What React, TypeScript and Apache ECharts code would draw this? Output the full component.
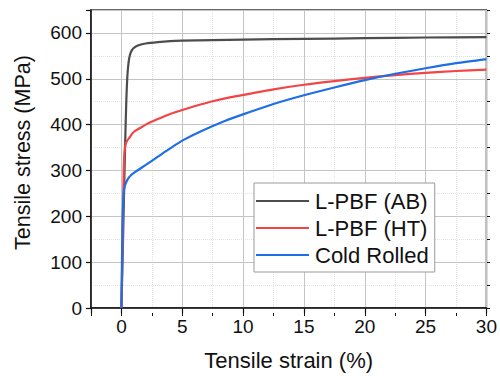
import React, { useEffect, useRef } from "react";
import * as echarts from "echarts";

const strainAB = [0, 0.1, 0.2, 0.3, 0.4, 0.5, 0.6, 0.7, 0.85, 1.05, 1.4, 2, 3, 4, 5, 7.5, 10, 15, 20, 25, 30];
const stressAB = [0, 110, 230, 350, 450, 510, 538, 552, 562, 568, 573, 577, 580, 582, 583, 584.5, 585.5, 587, 588.5, 590, 591];

const strainHT = [0, 0.1, 0.18, 0.25, 0.35, 0.5, 0.7, 1, 1.5, 2, 3, 4, 5, 6, 7.5, 9, 10.5, 12.5, 15, 17.5, 20, 22.5, 25, 27.5, 30];
const stressHT = [0, 150, 290, 340, 358, 366, 373, 384, 392, 400, 412, 423, 432, 440, 451, 460, 467, 477, 487, 495, 502, 508, 513, 517, 520];

const strainCR = [0, 0.1, 0.2, 0.3, 0.5, 0.8, 1.2, 2, 3, 4, 5, 6.5, 8.5, 10.5, 12.5, 15, 17.5, 20, 22.5, 25, 27.5, 30];
const stressCR = [0, 200, 255, 268, 280, 290, 298, 312, 330, 348, 365, 385, 408, 427, 445, 464, 481, 497, 511, 523, 534, 543];

const seriesNames = ["L-PBF (AB)", "L-PBF (HT)", "Cold Rolled"];
const seriesColors = ["#4d4d4d", "#f24545", "#1f6ee6"];

const xLabel = "Tensile strain (%)";
const yLabel = "Tensile stress (MPa)";

const FONT = "Liberation Sans, Arial, sans-serif";

function pairs(xs: number[], ys: number[]) {
  return xs.map((x, i) => [x, ys[i]]);
}

export default function App() {
  const ref = useRef<HTMLDivElement>(null);
  useEffect(() => {
    if (!ref.current) return;
    const chart = echarts.init(ref.current, undefined, { renderer: "svg" });
    const plotW = 399;
    const plotH = 303;
    const data = [pairs(strainAB, stressAB), pairs(strainHT, stressHT), pairs(strainCR, stressCR)];
    chart.setOption({
      animation: false,
      backgroundColor: "#ffffff",
      textStyle: { fontFamily: FONT },
      grid: {
        left: 91,
        right: 10,
        top: 10,
        bottom: 63,
        show: true,
        borderColor: "#3a3a3a",
        borderWidth: 1.5,
        backgroundColor: "transparent",
      },
      legend: {
        orient: "vertical",
        left: 254,
        top: 183,
        padding: [7, 6, 6, 2],
        itemGap: 5,
        itemWidth: 53,
        itemHeight: 2.2,
        icon: "rect",
        backgroundColor: "#ffffff",
        borderColor: "#9a9a9a",
        borderWidth: 1,
        borderRadius: 0,
        textStyle: { fontSize: 22, color: "#111", fontFamily: FONT, padding: [0, 0, 0, 1] },
        data: seriesNames,
      },
      xAxis: [
        {
          type: "value",
          min: -2.5,
          max: 30,
          splitNumber: 7,
          name: xLabel,
          nameLocation: "middle",
          nameGap: 41,
          nameTextStyle: { fontSize: 22, color: "#111", fontFamily: FONT, verticalAlign: "top" },
          axisLine: { show: true, onZero: false, lineStyle: { color: "#111", width: 1.5 } },
          axisTick: { show: true, inside: false, length: 5, lineStyle: { color: "#111", width: 1.2 } },
          axisLabel: {
            fontSize: 19,
            color: "#111",
            margin: 9,
            fontFamily: FONT,
            formatter: (v: number) => (v < 0 ? "" : String(v)),
          },
          splitLine: { show: true, lineStyle: { color: "#c4c4c4", width: 1 } },
          z: 3,
        },
        {
          type: "value",
          min: -2.5,
          max: 30,
          interval: 2.5,
          position: "top",
          offset: -plotH,
          axisLine: { show: false },
          axisTick: { show: true, inside: true, length: 3, lineStyle: { color: "#111", width: 1 } },
          axisLabel: { show: false },
          splitLine: { show: true, lineStyle: { color: "#e3e3e3", width: 1, type: "dotted" } },
          z: 2,
        },
      ],
      yAxis: [
        {
          type: "value",
          min: 0,
          max: 650,
          interval: 100,
          name: yLabel,
          nameLocation: "middle",
          nameGap: 57,
          nameTextStyle: { fontSize: 21.5, color: "#111", fontFamily: FONT, padding: [0, 0, 0, 13] },
          axisLine: { show: true, onZero: false, lineStyle: { color: "#111", width: 1.5 } },
          axisTick: { show: true, inside: false, length: 5, lineStyle: { color: "#111", width: 1.2 } },
          axisLabel: {
            fontSize: 19,
            color: "#111",
            margin: 9,
            fontFamily: FONT,
            formatter: (v: number) => (v > 600 ? "" : String(v)),
          },
          splitLine: { show: true, lineStyle: { color: "#c4c4c4", width: 1 } },
          z: 3,
        },
        {
          type: "value",
          min: 0,
          max: 650,
          interval: 50,
          position: "right",
          offset: -plotW,
          axisLine: { show: false },
          axisTick: { show: true, inside: true, length: 3, lineStyle: { color: "#111", width: 1 } },
          axisLabel: { show: false },
          splitLine: { show: true, lineStyle: { color: "#e3e3e3", width: 1, type: "dotted" } },
          z: 2,
        },
      ],
      series: seriesNames.map((name, i) => ({
        name,
        type: "line",
        xAxisIndex: 0,
        yAxisIndex: 0,
        data: data[i],
        symbol: "none",
        smooth: 0.25,
        clip: true,
        lineStyle: { color: seriesColors[i], width: 2.2 },
        itemStyle: { color: seriesColors[i] },
        z: 5,
      })),
    });
    return () => chart.dispose();
  }, []);
  return <div ref={ref} style={{ position: "fixed", left: 0, top: 0, width: 500, height: 376 }} />;
}
